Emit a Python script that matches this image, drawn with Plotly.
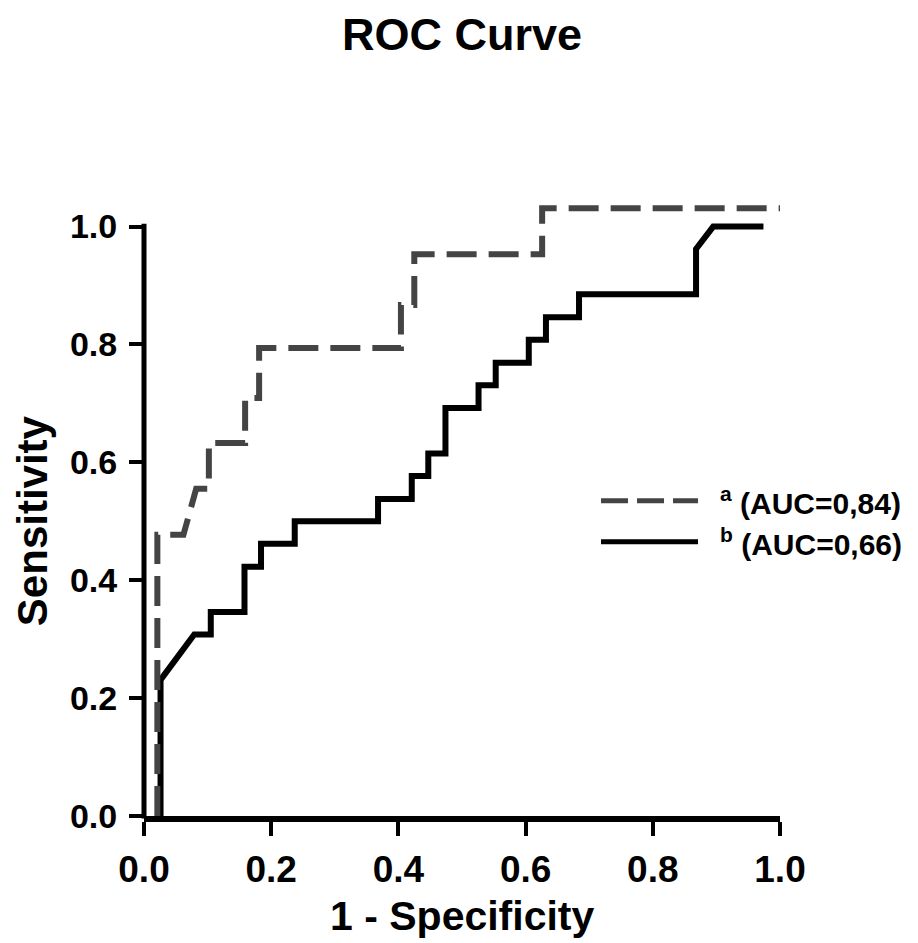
import plotly.graph_objects as go

# ---- data ----
# curve a (dashed): 1 - specificity / sensitivity vertices
a_fpr = [0.021, 0.021, 0.062, 0.082, 0.102, 0.102, 0.159, 0.159, 0.181, 0.181,
         0.404, 0.404, 0.425, 0.425, 0.626, 0.626, 1.0]
a_tpr = [0.0, 0.477, 0.477, 0.555, 0.555, 0.633, 0.633, 0.709, 0.709, 0.794,
         0.794, 0.867, 0.867, 0.953, 0.953, 1.031, 1.031]

# curve b (solid)
b_fpr = [0.026, 0.026, 0.079, 0.105, 0.105, 0.158, 0.158, 0.184, 0.184, 0.237,
         0.237, 0.368, 0.368, 0.421, 0.421, 0.447, 0.447, 0.474, 0.474, 0.526,
         0.526, 0.553, 0.553, 0.605, 0.605, 0.632, 0.632, 0.684, 0.684, 0.868,
         0.868, 0.895, 0.974]
b_tpr = [0.0, 0.231, 0.308, 0.308, 0.346, 0.346, 0.423, 0.423, 0.462, 0.462,
         0.5, 0.5, 0.538, 0.538, 0.577, 0.577, 0.615, 0.615, 0.692, 0.692,
         0.731, 0.731, 0.769, 0.769, 0.808, 0.808, 0.846, 0.846, 0.885, 0.885,
         0.962, 1.0, 1.0]

series_names = ["<sup>a</sup> (AUC=0,84)", "<sup>b</sup> (AUC=0,66)"]
tick_vals = [0.0, 0.2, 0.4, 0.6, 0.8, 1.0]
tick_text = ["0.0", "0.2", "0.4", "0.6", "0.8", "1.0"]

title_text = "ROC Curve"
x_title = "1 - Specificity"
y_title = "Sensitivity"

FONT = "Liberation Sans, Arial, Helvetica, sans-serif"
Y_MAX = 1.04

fig = go.Figure()
fig.add_trace(go.Scatter(x=b_fpr, y=b_tpr, mode="lines", name=series_names[1],
                         line=dict(color="#000000", width=6), showlegend=False))
fig.add_trace(go.Scatter(x=a_fpr, y=a_tpr, mode="lines", name=series_names[0],
                         line=dict(color="#444444", width=6, dash="30px,12px"),
                         showlegend=False))

fig.update_layout(
    width=918, height=943,
    margin=dict(l=144, r=138, t=203, b=127),
    paper_bgcolor="white", plot_bgcolor="white",
    font=dict(family=FONT, color="black"),
    title=dict(text=title_text, x=0.5, xref="paper", xanchor="center",
               y=1 - 34 / 943, yref="container", yanchor="middle",
               font=dict(size=45, weight="bold", family=FONT)),
    xaxis=dict(range=[0, 1], showgrid=False, zeroline=False,
               showline=True, linecolor="black", linewidth=6,
               ticks="outside", ticklen=14, tickwidth=4, tickcolor="black",
               tickvals=tick_vals, ticktext=tick_text,
               tickfont=dict(size=37, weight="bold", family=FONT),
               ticklabelstandoff=2, layer="below traces"),
    yaxis=dict(range=[0, Y_MAX], showgrid=False, zeroline=False,
               showline=False,
               ticks="outside", ticklen=14, tickwidth=4, tickcolor="black",
               tickvals=tick_vals, ticktext=tick_text,
               tickfont=dict(size=34, weight="bold", family=FONT),
               ticklabelstandoff=5, layer="below traces"),
    showlegend=False,
)

# y axis line only up to 1.0 (paper refs so it is not clipped)
fig.add_shape(type="line", xref="paper", yref="paper", x0=0, x1=0,
              y0=-0.004, y1=1.005 / Y_MAX,
              line=dict(color="black", width=5), layer="below")

# axis titles
fig.add_annotation(text=y_title, xref="paper", yref="paper", x=0, y=0.481,
                   xshift=-112, textangle=-90, showarrow=False,
                   xanchor="center", yanchor="middle",
                   font=dict(size=42, weight="bold", family=FONT))
fig.add_annotation(text=x_title, xref="paper", yref="paper", x=0.5, y=0,
                   yshift=-100, showarrow=False, xanchor="center", yanchor="middle",
                   font=dict(size=41, weight="bold", family=FONT))

# legend (manual, wide keys)
legend_rows = [(0.5144, "#444444", "27px,9px", series_names[0]),
               (0.4475, "#000000", "solid", series_names[1])]
for ly, col, dash, label in legend_rows:
    fig.add_shape(type="line", xref="paper", yref="paper", x0=0.7186, x1=0.8711,
                  y0=ly, y1=ly, line=dict(color=col, width=5, dash=dash))
    fig.add_annotation(text=label, xref="paper", yref="paper", x=0.9025, y=ly,
                       showarrow=False, xanchor="left", yanchor="middle",
                       font=dict(size=30, weight="bold", family=FONT))

fig.write_html("out.html",
               config={"displayModeBar": False},
               post_script="document.body.style.margin='0px';"
                           "document.body.style.overflow='hidden';")
